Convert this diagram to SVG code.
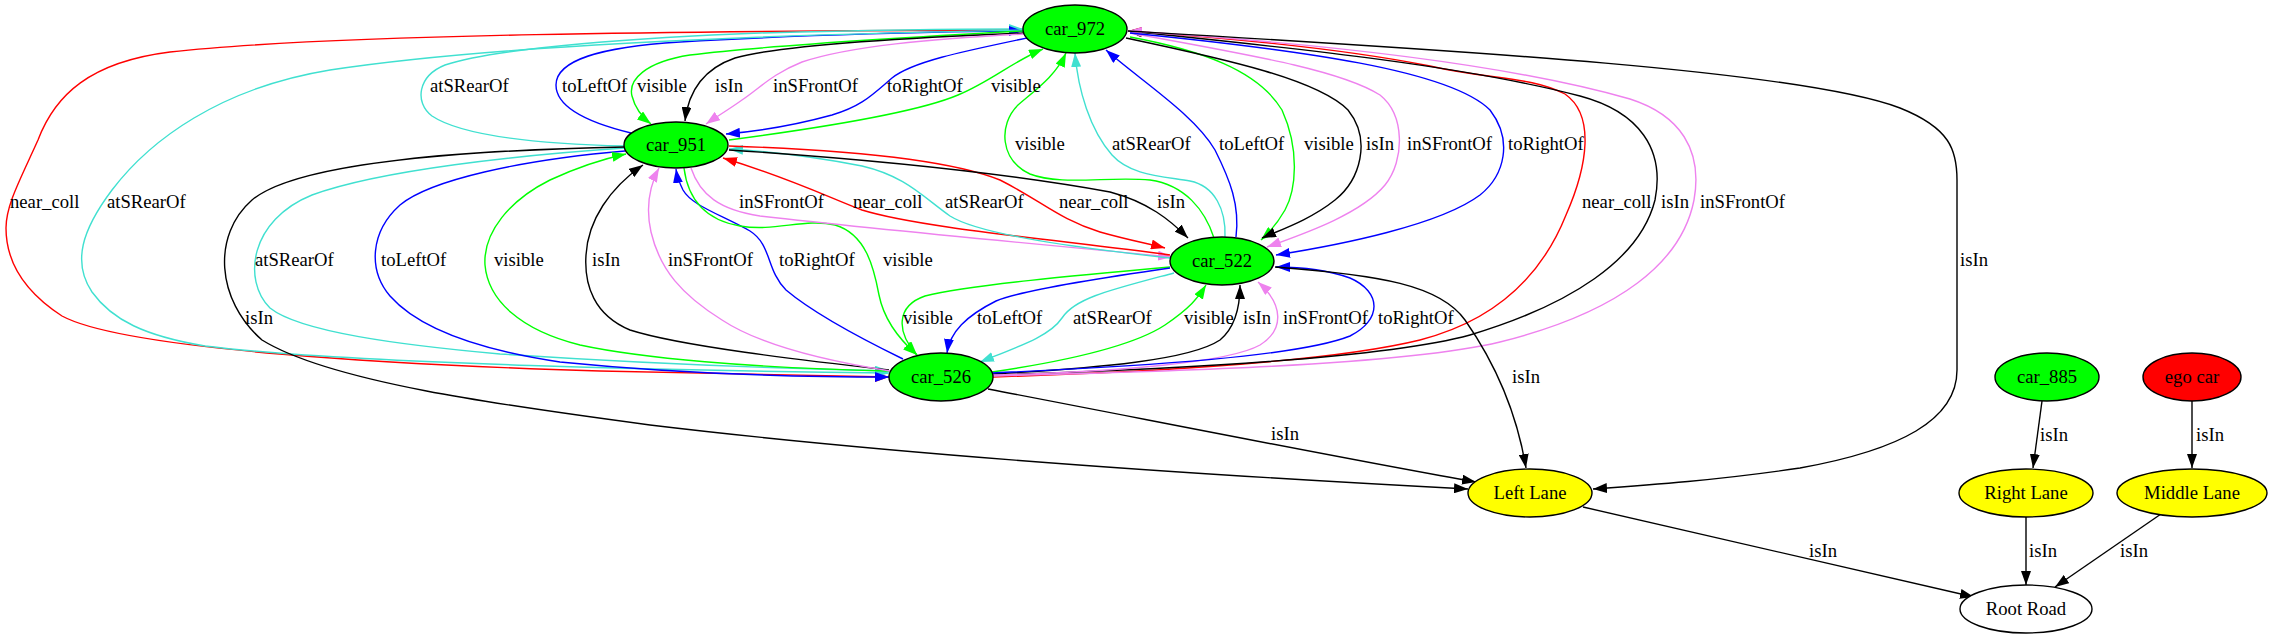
<svg xmlns="http://www.w3.org/2000/svg" width="2274" height="639" viewBox="0 0 2274 639">
<style>
.e{fill:none;stroke-width:1.4}
.k{stroke:#000;marker-end:url(#ak)}
.b{stroke:#00f;marker-end:url(#ab)}
.g{stroke:#0f0;marker-end:url(#ag)}
.t{stroke:#40e0d0;marker-end:url(#at)}
.v{stroke:#ee82ee;marker-end:url(#av)}
.r{stroke:#f00;marker-end:url(#ar)}
text{font-family:"Liberation Serif","Times New Roman",serif;font-size:18.67px;fill:#000}
.n ellipse{stroke:#000;stroke-width:1.4}
.n text{text-anchor:middle}
</style>
<defs>
<marker id="ak" viewBox="0 0 14 10" refX="14" refY="5" markerWidth="14" markerHeight="10" markerUnits="userSpaceOnUse" orient="auto"><path d="M0,0L14,5L0,10z" fill="#000"/></marker>
<marker id="ab" viewBox="0 0 14 10" refX="14" refY="5" markerWidth="14" markerHeight="10" markerUnits="userSpaceOnUse" orient="auto"><path d="M0,0L14,5L0,10z" fill="#00f"/></marker>
<marker id="ag" viewBox="0 0 14 10" refX="14" refY="5" markerWidth="14" markerHeight="10" markerUnits="userSpaceOnUse" orient="auto"><path d="M0,0L14,5L0,10z" fill="#0f0"/></marker>
<marker id="at" viewBox="0 0 14 10" refX="14" refY="5" markerWidth="14" markerHeight="10" markerUnits="userSpaceOnUse" orient="auto"><path d="M0,0L14,5L0,10z" fill="#40e0d0"/></marker>
<marker id="av" viewBox="0 0 14 10" refX="14" refY="5" markerWidth="14" markerHeight="10" markerUnits="userSpaceOnUse" orient="auto"><path d="M0,0L14,5L0,10z" fill="#ee82ee"/></marker>
<marker id="ar" viewBox="0 0 14 10" refX="14" refY="5" markerWidth="14" markerHeight="10" markerUnits="userSpaceOnUse" orient="auto"><path d="M0,0L14,5L0,10z" fill="#f00"/></marker>
</defs>
<rect width="2274" height="639" fill="#fff"/>
<g id="connectors">
<path class="e r" d="M1023,30 C700,31 330,34 170,52 C90,62 55,95 38,140 C20,180 6,205 6,228 C6,262 25,292 62,316 C125,350 400,365 600,371 C750,375 850,377 889,377"/>
<path class="e r" d="M993,377 C1150,372 1330,362 1420,340 C1490,322 1540,280 1566,215 C1588,165 1595,115 1565,94 C1530,76 1490,80 1430,66 C1330,46 1200,36 1128,31"/>
<path class="e k" d="M993,375 C1150,370 1380,360 1470,335 C1570,305 1640,260 1655,200 C1665,150 1640,112 1580,96 C1450,62 1250,44 1128,31"/>
<path class="e v" d="M993,376 C1150,372 1400,366 1500,342 C1620,312 1682,262 1694,200 C1703,150 1680,115 1630,99 C1500,62 1300,42 1128,31"/>
<path class="e t" d="M625,146 C540,144 462,136 432,116 C414,102 418,76 445,65 C500,47 650,37 760,33 C880,30 960,29 1023,29"/>
<path class="e b" d="M631,133 C590,123 556,108 556,85 C556,60 600,47 680,42 C800,35 950,31 1023,31"/>
<path class="e t" d="M1023,30 C800,34 500,44 330,70 C220,88 150,140 112,190 C82,230 72,262 92,292 C112,320 145,336 205,346 C350,364 700,371 889,373"/>
<path class="e g" d="M1023,31 C930,36 780,44 690,55 C645,62 628,80 632,96 C635,108 642,117 651,124"/>
<path class="e k" d="M1024,33 C900,38 780,45 735,58 C700,70 688,95 685,121"/>
<path class="e v" d="M1024,34 C930,39 850,46 802,62 C772,74 760,88 742,100 C728,110 716,117 706,124"/>
<path class="e b" d="M1027,38 C960,52 912,62 892,78 C872,95 862,106 832,115 C792,126 760,131 726,134"/>
<path class="e g" d="M729,140 C820,128 918,112 958,95 C990,82 1012,62 1043,49"/>
<path class="e t" d="M625,148 C520,155 380,170 312,195 C250,220 242,280 270,308 C300,332 400,345 500,354 C650,364 800,369 889,371"/>
<path class="e k" d="M625,147 C480,150 300,160 252,200 C212,235 216,300 262,340 C330,382 500,405 650,425 C900,455 1200,475 1468,489"/>
<path class="e b" d="M625,151 C520,160 430,180 400,205 C370,232 368,270 390,296 C420,330 480,350 560,362 C680,374 800,377 889,377"/>
<path class="e g" d="M889,371 C750,368 640,358 580,345 C520,330 488,300 485,265 C483,232 510,200 550,180 C578,167 603,159 626,154"/>
<path class="e k" d="M889,370 C800,360 680,346 630,330 C594,315 584,285 586,255 C588,220 610,188 643,165"/>
<path class="e v" d="M890,371 C820,360 760,345 722,320 C682,295 660,270 651,232 C645,205 650,185 659,168"/>
<path class="e b" d="M903,359 C860,338 812,312 786,290 C766,270 772,245 750,231 C722,215 692,206 683,190 C679,182 677,176 676,169"/>
<path class="e g" d="M684,168 C688,200 705,220 740,226 C775,232 805,218 835,225 C866,234 874,268 879,295 C884,320 900,340 917,355"/>
<path class="e g" d="M1170,267 C1080,275 970,285 925,296 C896,306 896,332 917,355"/>
<path class="e b" d="M1170,268 C1100,278 1022,290 996,301 C966,316 950,332 947,353"/>
<path class="e t" d="M1174,273 C1110,290 1075,298 1062,318 C1050,336 1020,346 980,362"/>
<path class="e g" d="M992,372 C1060,362 1130,348 1165,325 C1190,308 1198,298 1206,285"/>
<path class="e k" d="M992,374 C1100,368 1190,360 1220,340 C1238,325 1240,300 1240,285"/>
<path class="e v" d="M992,375 C1120,372 1230,362 1260,345 C1284,330 1284,305 1258,282"/>
<path class="e b" d="M992,373 C1150,366 1300,356 1350,336 C1382,320 1382,292 1350,278 C1322,268 1296,267 1276,267"/>
<path class="e v" d="M691,168 C700,195 720,210 760,216 C900,232 1080,248 1172,257"/>
<path class="e r" d="M1170,255 C1060,240 920,228 862,210 C830,198 790,178 723,158"/>
<path class="e t" d="M1170,258 C1080,248 980,235 950,216 C922,196 905,176 862,166 C805,155 762,151 729,149"/>
<path class="e r" d="M729,146 C850,150 950,160 1000,180 C1040,200 1060,220 1100,232 C1128,240 1150,244 1165,248"/>
<path class="e k" d="M729,150 C850,158 1000,172 1110,192 C1148,202 1170,220 1188,238"/>
<path class="e g" d="M1214,238 C1205,210 1185,185 1150,180 C1110,176 1060,186 1030,174 C1000,160 998,125 1018,105 C1038,88 1056,75 1066,53"/>
<path class="e t" d="M1225,237 C1226,210 1215,186 1190,181 C1160,176 1130,175 1112,155 C1090,130 1078,90 1075,53"/>
<path class="e b" d="M1236,237 C1240,205 1230,180 1215,150 C1195,115 1140,80 1106,50"/>
<path class="e g" d="M1130,37 C1200,50 1258,70 1282,110 C1300,150 1296,190 1285,210 C1277,224 1270,232 1261,240"/>
<path class="e k" d="M1126,38 C1230,60 1318,80 1348,110 C1372,140 1360,180 1335,200 C1310,220 1280,230 1262,238"/>
<path class="e v" d="M1130,33 C1250,55 1340,70 1380,95 C1405,115 1405,160 1385,185 C1360,215 1300,235 1267,247"/>
<path class="e b" d="M1130,33 C1300,50 1450,70 1490,110 C1513,140 1505,175 1480,195 C1440,225 1340,245 1276,255"/>
<path class="e k" d="M1128,31 C1450,50 1800,70 1900,108 C1950,128 1957,150 1957,180 L1957,370 C1957,420 1900,450 1800,468 C1720,480 1650,485 1593,489"/>
<path class="e k" d="M1275,267 C1380,275 1440,285 1465,320 C1500,370 1518,420 1526,468"/>
<path class="e k" d="M988,389 C1150,420 1350,460 1476,482"/>
<path class="e k" d="M2042,401 L2033,468"/>
<path class="e k" d="M2192,401 L2192,468"/>
<path class="e k" d="M1583,507 L1974,597"/>
<path class="e k" d="M2026,517 L2026,585"/>
<path class="e k" d="M2161,514 L2055,587"/>
<g id="labels">
<text x="430" y="92">atSRearOf</text>
<text x="562" y="92">toLeftOf</text>
<text x="637" y="92">visible</text>
<text x="715" y="92">isIn</text>
<text x="773" y="92">inSFrontOf</text>
<text x="887" y="92">toRightOf</text>
<text x="991" y="92">visible</text>
<text x="1015" y="150">visible</text>
<text x="1112" y="150">atSRearOf</text>
<text x="1219" y="150">toLeftOf</text>
<text x="1304" y="150">visible</text>
<text x="1366" y="150">isIn</text>
<text x="1407" y="150">inSFrontOf</text>
<text x="1508" y="150">toRightOf</text>
<text x="10" y="208">near_coll</text>
<text x="107" y="208">atSRearOf</text>
<text x="739" y="208">inSFrontOf</text>
<text x="853" y="208">near_coll</text>
<text x="945" y="208">atSRearOf</text>
<text x="1059" y="208">near_coll</text>
<text x="1157" y="208">isIn</text>
<text x="1582" y="208">near_coll</text>
<text x="1661" y="208">isIn</text>
<text x="1700" y="208">inSFrontOf</text>
<text x="255" y="266">atSRearOf</text>
<text x="381" y="266">toLeftOf</text>
<text x="494" y="266">visible</text>
<text x="592" y="266">isIn</text>
<text x="668" y="266">inSFrontOf</text>
<text x="779" y="266">toRightOf</text>
<text x="883" y="266">visible</text>
<text x="1960" y="266">isIn</text>
<text x="245" y="324">isIn</text>
<text x="903" y="324">visible</text>
<text x="977" y="324">toLeftOf</text>
<text x="1073" y="324">atSRearOf</text>
<text x="1184" y="324">visible</text>
<text x="1243" y="324">isIn</text>
<text x="1283" y="324">inSFrontOf</text>
<text x="1378" y="324">toRightOf</text>
<text x="1512" y="383">isIn</text>
<text x="1271" y="440">isIn</text>
<text x="2040" y="441">isIn</text>
<text x="2196" y="441">isIn</text>
<text x="1809" y="557">isIn</text>
<text x="2029" y="557">isIn</text>
<text x="2120" y="557">isIn</text>
</g>
</g>
<g id="car_972" class="n"><ellipse cx="1075" cy="29" rx="52" ry="24" fill="#0f0"/><text x="1075" y="35">car_972</text></g>
<g id="car_951" class="n"><ellipse cx="676" cy="145" rx="52" ry="23" fill="#0f0"/><text x="676" y="151">car_951</text></g>
<g id="car_522" class="n"><ellipse cx="1222" cy="261" rx="52" ry="24" fill="#0f0"/><text x="1222" y="267">car_522</text></g>
<g id="car_526" class="n"><ellipse cx="941" cy="377" rx="52" ry="24" fill="#0f0"/><text x="941" y="383">car_526</text></g>
<g id="car_885" class="n"><ellipse cx="2047" cy="377" rx="52" ry="24" fill="#0f0"/><text x="2047" y="383">car_885</text></g>
<g id="ego_car" class="n"><ellipse cx="2192" cy="377" rx="49" ry="24" fill="#f00"/><text x="2192" y="383">ego car</text></g>
<g id="left_lane" class="n"><ellipse cx="1530" cy="493" rx="62" ry="24" fill="#ff0"/><text x="1530" y="499">Left Lane</text></g>
<g id="right_lane" class="n"><ellipse cx="2026" cy="493" rx="67" ry="24" fill="#ff0"/><text x="2026" y="499">Right Lane</text></g>
<g id="middle_lane" class="n"><ellipse cx="2192" cy="493" rx="75" ry="24" fill="#ff0"/><text x="2192" y="499">Middle Lane</text></g>
<g id="root_road" class="n"><ellipse cx="2026" cy="609" rx="66" ry="24" fill="#fff"/><text x="2026" y="615">Root Road</text></g>
</svg>
